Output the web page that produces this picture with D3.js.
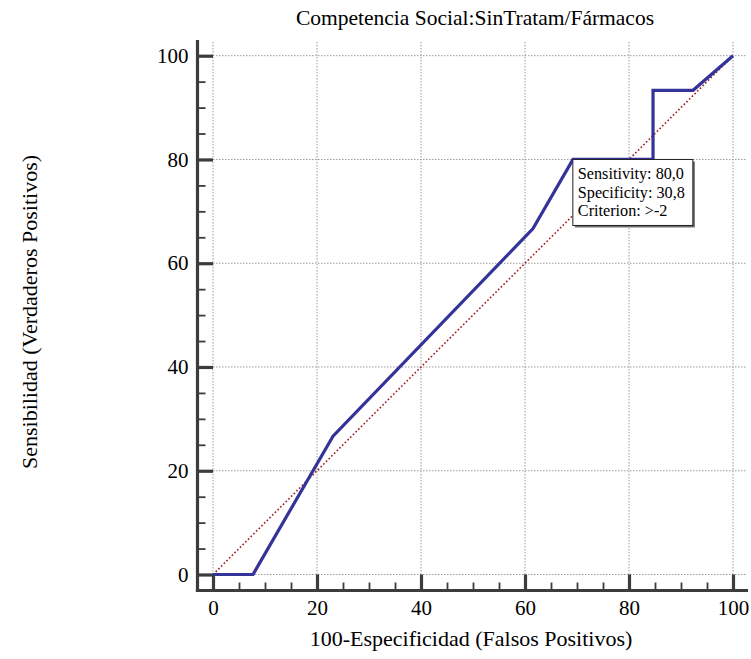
<!DOCTYPE html>
<html>
<head>
<meta charset="utf-8">
<script src="https://cdn.jsdelivr.net/npm/d3@7"></script>
<style>
  html, body { margin: 0; padding: 0; background: #fff; }
  svg { display: block; font-family: "Liberation Serif", "DejaVu Serif", serif; }
</style>
</head>
<body>
<svg id="chart" width="751" height="659"></svg>
<script>
// ROC curve: 100-specificity (x) against sensitivity (y), in percent
const fpr = [0, 7.69, 23.08, 61.54, 69.23, 84.62, 84.62, 92.31, 100];
const tpr = [0, 0, 26.67, 66.67, 80, 80, 93.33, 93.33, 100];

const majorTicks = [0, 20, 40, 60, 80, 100];
const minorTicks = [5, 10, 15, 25, 30, 35, 45, 50, 55, 65, 70, 75, 85, 90, 95];

const titleText = "Competencia Social:SinTratam/Fármacos";
const xTitle = "100-Especificidad (Falsos Positivos)";
const yTitle = "Sensibilidad (Verdaderos Positivos)";

// Highlighted operating point
const markSens = 80.0;
const markSpec = 30.8;
const markCrit = ">-2";
const tipLines = ["Sensitivity: 80,0", "Specificity: 30,8", "Criterion: " + markCrit];

const svg = d3.select("#chart");

const x = d3.scaleLinear().domain([0, 100]).range([213, 733]);
const y = d3.scaleLinear().domain([0, 100]).range([574.5, 55.7]);

const axisX = 197.5;   // position of vertical axis line
const axisY = 590.5;   // position of horizontal axis line
const gridTop = 42;
const gridRight = 746;
const axisColor = "#3c3c3c";

// Dotted grid
const grid = svg.append("g");
grid.selectAll("line.v").data(majorTicks).join("line")
  .attr("x1", d => x(d)).attr("x2", d => x(d))
  .attr("y1", y(0)).attr("y2", gridTop)
  .attr("stroke", "#9a9a9a").attr("stroke-width", 1).attr("stroke-dasharray", "1.5,1.5");
grid.selectAll("line.h").data(majorTicks).join("line")
  .attr("y1", d => y(d)).attr("y2", d => y(d))
  .attr("x1", x(0)).attr("x2", gridRight)
  .attr("stroke", "#9a9a9a").attr("stroke-width", 1).attr("stroke-dasharray", "1.5,1.5");

// Reference diagonal
svg.append("line")
  .attr("x1", x(0)).attr("y1", y(0)).attr("x2", x(100)).attr("y2", y(100))
  .attr("stroke", "#a01818").attr("stroke-width", 1.6).attr("stroke-dasharray", "1.6,2.2");

// Axes: major ticks with labels, minor ticks without
const majLen = x(0) - axisX;
const yMajor = d3.axisLeft(y).tickValues(majorTicks).tickSize(-majLen).tickPadding(9).tickFormat(d3.format("d"));
const yMinor = d3.axisLeft(y).tickValues(minorTicks).tickSize(-8).tickFormat("");
const xMajor = d3.axisBottom(x).tickValues(majorTicks).tickSize(-(axisY - y(0))).tickPadding(10).tickFormat(d3.format("d"));
const xMinor = d3.axisBottom(x).tickValues(minorTicks).tickSize(-8).tickFormat("");

function styleAxis(g, w) {
  g.select(".domain").remove();
  g.selectAll(".tick line").attr("stroke", axisColor).attr("stroke-width", w);
  g.selectAll(".tick text").attr("fill", "#000").style("font-size", "21px")
    .style("font-family", "'Liberation Serif', serif");
}

svg.append("g").attr("transform", `translate(${axisX},0)`).call(yMajor).call(g => styleAxis(g, 3.2));
svg.append("g").attr("transform", `translate(${axisX},0)`).call(yMinor).call(g => styleAxis(g, 1.8));
svg.append("g").attr("transform", `translate(0,${axisY})`).call(xMajor).call(g => styleAxis(g, 3.2));
svg.append("g").attr("transform", `translate(0,${axisY})`).call(xMinor).call(g => styleAxis(g, 1.8));

// Axis lines
svg.append("line").attr("x1", axisX).attr("x2", axisX).attr("y1", 40).attr("y2", axisY + 1.6)
  .attr("stroke", axisColor).attr("stroke-width", 3.2);
svg.append("line").attr("x1", axisX - 1.6).attr("x2", 748).attr("y1", axisY).attr("y2", axisY)
  .attr("stroke", axisColor).attr("stroke-width", 3.2);

// ROC curve
const pts = fpr.map((v, i) => [v, tpr[i]]);
svg.append("path")
  .datum(pts)
  .attr("d", d3.line().x(d => x(d[0])).y(d => y(d[1])))
  .attr("fill", "none").attr("stroke", "#33339a").attr("stroke-width", 3.2)
  .attr("stroke-linejoin", "miter");

// Info box anchored at the operating point
const bx = x(100 - markSpec), by = y(markSens);
const bw = 120, bh = 66;
svg.append("rect").attr("x", bx + 2).attr("y", by + 2).attr("width", bw).attr("height", bh).attr("fill", "#6a6a6a");
svg.append("rect").attr("x", bx).attr("y", by).attr("width", bw).attr("height", bh)
  .attr("fill", "#fff").attr("stroke", "#222").attr("stroke-width", 1);
svg.append("g").selectAll("text").data(tipLines).join("text")
  .attr("x", bx + 5).attr("y", (d, i) => by + 20 + i * 18.5)
  .style("font-size", "16.2px").attr("fill", "#000").text(d => d);

// Titles
svg.append("text").attr("x", 475).attr("y", 25).attr("text-anchor", "middle")
  .style("font-size", "21.5px").text(titleText);
svg.append("text").attr("x", 471).attr("y", 646).attr("text-anchor", "middle")
  .style("font-size", "22px").text(xTitle);
svg.append("text").attr("transform", "translate(37,312) rotate(-90)").attr("text-anchor", "middle")
  .style("font-size", "22px").text(yTitle);
</script>
</body>
</html>
